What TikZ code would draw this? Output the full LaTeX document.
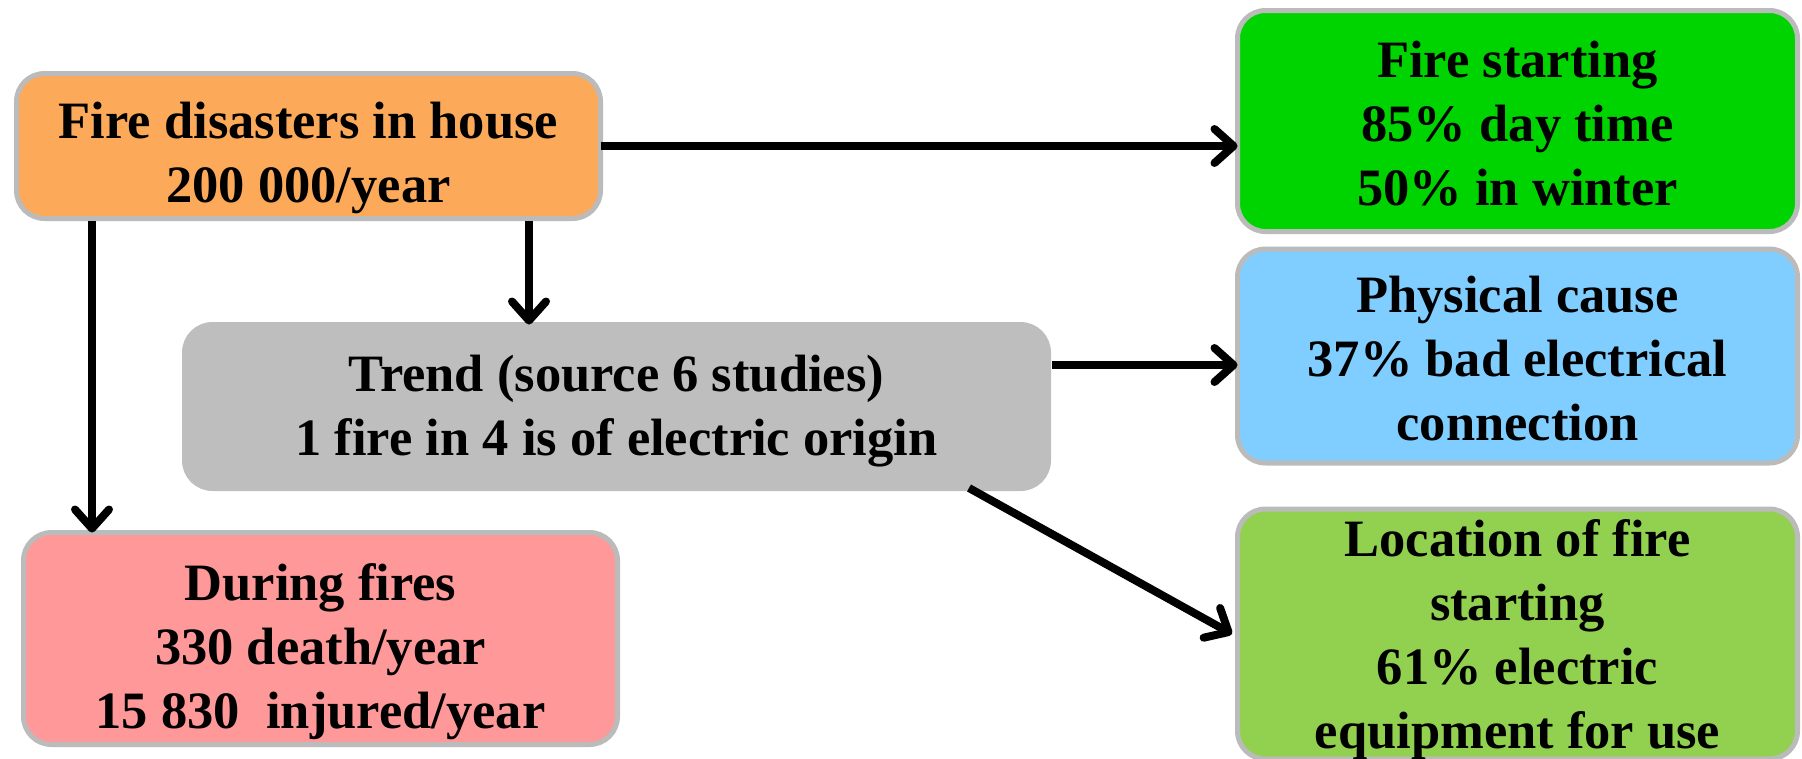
\documentclass[tikz,border=0pt]{standalone}
\usepackage{fontspec}
\setmainfont{Liberation Serif}
\usetikzlibrary{arrows.meta}
\definecolor{bordergray}{HTML}{BBBBBB}
\definecolor{cOrange}{HTML}{FCAA59}
\definecolor{cGreen}{HTML}{00D400}
\definecolor{cBlue}{HTML}{80CEFF}
\definecolor{cGray}{HTML}{BEBEBE}
\definecolor{cPink}{HTML}{FF9898}
\definecolor{cLime}{HTML}{92D050}
\tikzset{
  box/.style={draw=bordergray, line width=5pt, rounded corners=28pt,
    inner sep=0pt, outer sep=0pt},
  txt/.style={align=center, inner sep=0pt,
    font=\fontsize{52.5}{64}\selectfont\bfseries},
  conn/.style={line width=8pt, -{Straight Barb[length=19pt,width=34pt,line cap=round,line join=round]}}
}
\begin{document}
\begin{tikzpicture}[x=1pt,y=-1pt]
\useasboundingbox (0,0) rectangle (1802,758);
\clip (0,0) rectangle (1802,758);
% boxes
\node[box, fill=cOrange, minimum width=584pt, minimum height=145pt] (fdb) at (308.5,146) {};
\node[box, fill=cGreen, minimum width=560pt, minimum height=221pt] (fsb) at (1517.5,121) {};
\node[box, fill=cBlue, minimum width=560pt, minimum height=214pt] (pcb) at (1517.5,356) {};
\node[box, draw=cGray, fill=cGray, minimum width=864pt, minimum height=164pt] (trb) at (616.5,406.5) {};
\node[box, fill=cPink, minimum width=594pt, minimum height=212pt] (dfb) at (320.5,638.5) {};
\node[box, fill=cLime, minimum width=560pt, minimum height=250pt] (lfb) at (1517.5,634) {};
% texts
\node[txt] (fd) at (308.5,158) {Fire disasters in house\\200 000/year};
\node[txt] (fs) at (1517.5,124) {Fire starting\\85\% day time\\50\% in winter};
\node[txt] (pc) at (1517.5,358.5) {Physical cause\\37\% bad electrical\\connection};
\node[txt] (tr) at (616.5,411.5) {Trend (source 6 studies)\\1 fire in 4 is of electric origin};
\node[txt] (df) at (320.5,652) {During fires\\330 death/year\\15 830~~injured/year};
\node[txt] (lf) at (1517.5,640) {Location of fire\\starting\\61\% electric\\equipment for use};
% connectors
\coordinate (a1) at (fdb.east);
\draw[conn] (a1) -- (a1 -| fsb.west);
\coordinate (a2) at (529,221);
\draw[conn] (a2) -- (a2 |- trb.north);
\coordinate (a3) at (92,221);
\draw[conn] (a3) -- (a3 |- dfb.north);
\coordinate (a4) at (1052,365);
\draw[conn] (a4) -- (a4 -| pcb.west);
\coordinate (a5) at (969,488);
\coordinate (a6) at (1232,634);
\draw[conn] (a5) -- (a6);
\end{tikzpicture}
\end{document}
